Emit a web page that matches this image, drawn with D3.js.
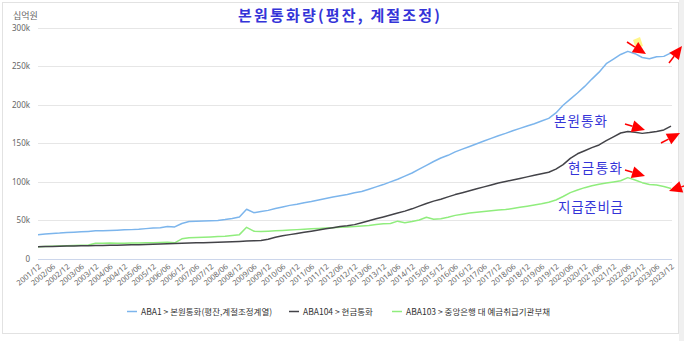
<!DOCTYPE html>
<html><head><meta charset="utf-8">
<script src="https://cdn.jsdelivr.net/npm/d3@7"></script>
<style>
html,body{margin:0;padding:0;background:#fff;}
svg{display:block;font-family:"Noto Sans","Noto Sans CJK KR",sans-serif;}
</style></head>
<body>
<svg id="chart" width="684" height="341"></svg>
<script>
const periods = ["2001/12","2002/03","2002/06","2002/09","2002/12","2003/03","2003/06","2003/09","2003/12","2004/03","2004/06","2004/09","2004/12","2005/03","2005/06","2005/09","2005/12","2006/03","2006/06","2006/09","2006/12","2007/03","2007/06","2007/09","2007/12","2008/03","2008/06","2008/09","2008/12","2009/03","2009/06","2009/09","2009/12","2010/03","2010/06","2010/09","2010/12","2011/03","2011/06","2011/09","2011/12","2012/03","2012/06","2012/09","2012/12","2013/03","2013/06","2013/09","2013/12","2014/03","2014/06","2014/09","2014/12","2015/03","2015/06","2015/09","2015/12","2016/03","2016/06","2016/09","2016/12","2017/03","2017/06","2017/09","2017/12","2018/03","2018/06","2018/09","2018/12","2019/03","2019/06","2019/09","2019/12","2020/03","2020/06","2020/09","2020/12","2021/03","2021/06","2021/09","2021/12","2022/03","2022/06","2022/09","2022/12","2023/03","2023/06","2023/09","2023/12"];

const tickLabels = ["2001/12","2002/06","2002/12","2003/06","2003/12","2004/06","2004/12","2005/06","2005/12","2006/06","2006/12","2007/06","2007/12","2008/06","2008/12","2009/06","2009/12","2010/06","2010/12","2011/06","2011/12","2012/06","2012/12","2013/06","2013/12","2014/06","2014/12","2015/06","2015/12","2016/06","2016/12","2017/06","2017/12","2018/06","2018/12","2019/06","2019/12","2020/06","2020/12","2021/06","2021/12","2022/06","2022/12","2023/06","2023/12"];

// ABA1 > 본원통화(평잔,계절조정계열)
const reserveMoney = [31000,31800,32500,33000,33800,34200,34600,35200,36000,36200,
36500,36800,37200,37500,38000,38800,39500,40000,41500,41000,
45500,48000,48300,48700,49000,49500,50500,52000,54000,64000,
59500,61000,62500,65000,67000,69000,70500,72500,74000,76000,
78000,80000,81500,83000,85500,87000,90000,93000,96000,99500,
103000,107000,111000,116000,121000,126000,130500,134000,138500,142000,
145500,149000,152500,156000,159500,162500,166000,169000,172000,175000,
178500,182000,189000,199000,207000,215000,223500,233000,242000,253000,
259000,265000,269000,266000,261000,259500,262000,262500,267000];

// ABA104 > 현금통화
const currency = [15300,15500,15700,15900,16100,16300,16500,16600,16800,17000,
17100,17300,17500,17700,17900,18100,18400,18700,19000,19500,
19700,20000,20300,20600,20900,21200,21500,21800,22200,22600,
23000,23500,25000,27500,29500,31000,32500,34000,35500,37000,
38500,40000,41500,42500,44000,46500,49000,51500,54000,56500,
59000,61500,64500,68000,71500,74500,77000,80000,83000,85500,
88000,90500,93000,95500,98000,100000,102000,104000,106000,108000,
110000,112000,116000,122000,130000,136000,140000,144000,147500,153000,
158000,163000,165000,164000,162500,163500,165000,167000,172000];

// ABA103 > 중앙은행 대 예금취급기관부채
const reserves = [15300,15600,15900,16200,16500,16800,17100,17500,19800,19900,
20000,19800,19900,20000,20100,20300,20500,20700,21000,20400,
25500,27000,27200,27600,28000,28500,29000,30000,31000,40500,
35500,35000,35500,36000,36500,37000,37500,38000,38500,39000,
39500,40000,40500,41000,41500,42300,43000,44000,45000,45500,
48500,46500,48000,50000,53500,51000,51500,53500,56000,57500,
59000,60000,61000,62000,63000,63500,65000,66500,68000,69500,
71000,73000,76000,80500,85500,89000,92000,94500,96500,98000,
99500,101000,105000,102000,98500,96000,95500,93500,91000];

const yTicks = [0,50000,100000,150000,200000,250000,300000];
const yTickLabels = ["0","50k","100k","150k","200k","250k","300k"];

const seriesNames = ["ABA1 > 본원통화(평잔,계절조정계열)","ABA104 > 현금통화","ABA103 > 중앙은행 대 예금취급기관부채"];
const seriesColors = ["#7cb5ec","#434348","#90ed7d"];
const seriesData = [reserveMoney, currency, reserves];

const svg = d3.select("#chart");
svg.append("rect").attr("x",0).attr("y",0).attr("width",684).attr("height",341).attr("fill","#fff");
svg.append("rect").attr("x",2.5).attr("y",2.5).attr("width",676).attr("height",331)
  .attr("fill","none").attr("stroke","#e2e2e2");
svg.append("rect").attr("x",679).attr("y",0).attr("width",5).attr("height",341).attr("fill","#f0f0f0");

const x = d3.scalePoint().domain(periods).range([38, 671]);
const y = d3.scaleLinear().domain([0,300000]).range([258.5, 27.5]);

// gridlines
svg.append("g").selectAll("line").data(yTicks).join("line")
  .attr("x1",38).attr("x2",672)
  .attr("y1",d=>Math.round(y(d))+0.5).attr("y2",d=>Math.round(y(d))+0.5)
  .attr("stroke",(d)=> d===0 ? "#ccd6eb" : "#e6e6e6").attr("stroke-width",1);

// y axis labels
const yAxis = d3.axisLeft(y).tickValues(yTicks).tickFormat((d,i)=>yTickLabels[i]).tickSize(0).tickPadding(0);
const gy = svg.append("g").attr("transform","translate(30,0)").call(yAxis);
gy.select(".domain").remove();
gy.selectAll("text").attr("fill","#666").attr("font-size","8px").attr("font-family","Noto Sans, sans-serif");

svg.append("text").attr("x",13).attr("y",19).attr("fill","#666").attr("font-size","9px")
  .attr("font-family","Noto Sans CJK KR, sans-serif").text("십억원");

// x axis
const xAxis = d3.axisBottom(x).tickValues(tickLabels).tickSize(0).tickPadding(0);
const gx = svg.append("g").attr("transform","translate(0,258.5)").call(xAxis);
gx.select(".domain").remove();
gx.selectAll("text")
  .attr("fill","#666").attr("font-size","7.6px").attr("font-family","Noto Sans, sans-serif")
  .attr("text-anchor","end")
  .attr("dy","0").attr("y",0)
  .attr("transform","translate(3,9) rotate(-40)");

// lines
const line = d3.line().x((d,i)=>x(periods[i])).y(d=>y(d));
[0,2,1].forEach(k=>{
  svg.append("path").datum(seriesData[k]).attr("d",line)
    .attr("fill","none").attr("stroke",seriesColors[k]).attr("stroke-width",1.5)
    .attr("stroke-linejoin","round");
});

// title
svg.append("text").attr("x",339).attr("y",21).attr("text-anchor","middle")
  .attr("font-family","Noto Sans CJK KR, sans-serif").attr("font-weight","bold")
  .attr("font-size","15px").attr("fill","#3434d8")
  .attr("textLength",202).attr("lengthAdjust","spacing")
  .text("본원통화량(평잔, 계절조정)");

// annotations
const notes = [
  {t:"본원통화", x:554, y:126, w:53},
  {t:"현금통화", x:568, y:173, w:54},
  {t:"지급준비금", x:558, y:212, w:65}
];
svg.append("g").selectAll("text").data(notes).join("text")
  .attr("x",d=>d.x).attr("y",d=>d.y).attr("textLength",d=>d.w).attr("lengthAdjust","spacing")
  .attr("font-family","Noto Sans CJK KR, sans-serif").attr("font-size","13.5px")
  .attr("fill","#3434d8").text(d=>d.t);

// yellow highlight + red arrows
svg.append("path").attr("d","M633,40 L640,37 L643,46 L636,49 Z").attr("fill","#fff36b").attr("opacity",0.8);
const arrows = [
  [627,42,646,54],
  [669,63,682,46],
  [625,124,645,130],
  [661,143,680,133],
  [625,170,645,176],
  [690,184,669,191]
];
const ag = svg.append("g");
arrows.forEach(([x1,y1,x2,y2])=>{
  const a = Math.atan2(y2-y1,x2-x1), L=13, W=6;
  const bx = x2-L*Math.cos(a), by = y2-L*Math.sin(a);
  ag.append("line").attr("x1",x1).attr("y1",y1).attr("x2",bx).attr("y2",by)
    .attr("stroke","#ff0000").attr("stroke-width",1.5);
  const p1=[bx+W*Math.sin(a), by-W*Math.cos(a)], p2=[bx-W*Math.sin(a), by+W*Math.cos(a)];
  ag.append("path").attr("d",`M${x2},${y2}L${p1[0]},${p1[1]}L${p2[0]},${p2[1]}Z`).attr("fill","#ff0000");
});

// legend
const legendX = [127, 289, 392];
const lg = svg.append("g");
seriesNames.forEach((n,i)=>{
  lg.append("line").attr("x1",legendX[i]).attr("x2",legendX[i]+10).attr("y1",311.5).attr("y2",311.5)
    .attr("stroke",seriesColors[i]).attr("stroke-width",1.5);
  lg.append("text").attr("x",legendX[i]+14).attr("y",314.5).attr("font-size","8.5px")
    .attr("fill","#333").attr("font-family","Noto Sans CJK KR, sans-serif").text(n);
});
</script>
</body></html>
